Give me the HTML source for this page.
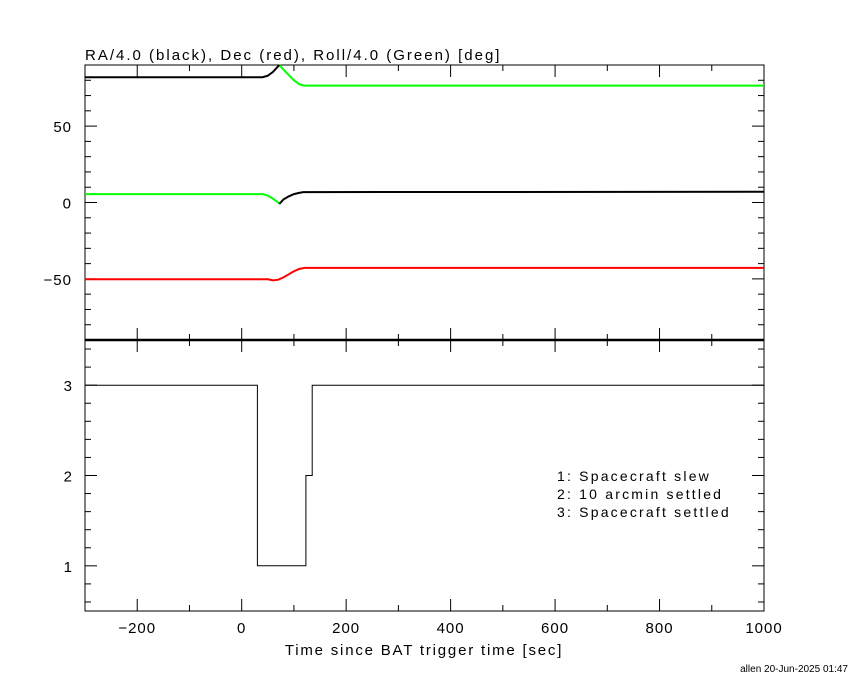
<!DOCTYPE html>
<html><head><meta charset="utf-8"><style>
body{margin:0;background:#fff}
svg text{font-family:"Liberation Sans","DejaVu Sans",sans-serif;fill:#000}
</style></head><body>
<svg id="c" width="850" height="680" xmlns="http://www.w3.org/2000/svg">
<text x="85" y="60" font-size="15" letter-spacing="2">RA/4.0 (black), Dec (red), Roll/4.0 (Green) [deg]</text>
<text x="424" y="655" font-size="15" letter-spacing="1.8" text-anchor="middle">Time since BAT trigger time [sec]</text>
<text x="848" y="672" font-size="10" text-anchor="end">allen 20-Jun-2025 01:47</text>
<g font-size="14" letter-spacing="2.2">
<text x="557" y="481">1: Spacecraft slew</text>
<text x="557" y="499">2: 10 arcmin settled</text>
<text x="557" y="517">3: Spacecraft settled</text>
</g>
<g id="g"></g>
</svg>
<script>
// data
const raTimes=[-300,40,50,60,72,72,80,90,100,110,118,1000];
const raVals=[82,82,83,85.5,90,-1,2,4,5.5,6.3,6.8,7];
const decTimes=[-300,50,60,70,80,90,100,110,120,1000];
const decVals=[-50.3,-50.3,-51,-50.5,-49,-47,-45,-43.5,-42.8,-42.8];
const rollTimes=[-300,40,50,60,72,72,80,90,100,110,120,1000];
const rollVals=[5.5,5.5,4.5,2.5,-0.5,90,87,83.5,80,77.5,76.5,76.5];
const stTimes=[-300,30,30,123,123,135,135,1000];
const stVals=[3,3,1,1,2,2,3,3];
const xTicks=[-200,0,200,400,600,800,1000];
const topYTicks=[-50,0,50];
const botYTicks=[1,2,3];

const L=85,R=764,T1=65,B1=340,T2=340,B2=611;
const X=t=>L+(t+300)/1300*(R-L);
const Y1=v=>T1+(90-v)/180*(B1-T1);
const Y2=v=>T2+(3.5-v)/3*(B2-T2);
const NS='http://www.w3.org/2000/svg',g=document.getElementById('g');
function el(tag,a){const e=document.createElementNS(NS,tag);for(const k in a)e.setAttribute(k,a[k]);g.appendChild(e);return e;}
function line(x1,y1,x2,y2,w){return el('line',{x1,y1,x2,y2,stroke:'#000','stroke-width':w||1});}
// frames
let f=el('rect',{x:L,y:T1,width:R-L,height:B1-T1,fill:'none',stroke:'#000'});


f=el('rect',{x:L,y:T2,width:R-L,height:B2-T2,fill:'none',stroke:'#000'});


line(L,340,R,340,2.5);
// x ticks
for(let t=-300;t<=1000;t+=100){const x=X(t),maj=t%200===0,h=maj?12:6;
 line(x,T1,x,T1+h);line(x,B1,x,B1-h);line(x,T2,x,T2+h);line(x,B2,x,B2-h);}
xTicks.forEach(t=>{const e=el('text',{x:X(t),y:633,'font-size':15,'letter-spacing':1,'text-anchor':'middle'});e.textContent=(t<0?'\u2212':'')+Math.abs(t);
 
 });
// top y ticks
for(let v=-80;v<=90;v+=10){const y=Y1(v),h=v%50===0?12:6;line(L,y,L+h,y);line(R,y,R-h,y);}
topYTicks.forEach(v=>{const e=el('text',{x:72,y:Y1(v)+6,'font-size':15,'letter-spacing':1,'text-anchor':'end'});e.textContent=(v<0?'\u2212':'')+Math.abs(v);
 
 });
// bottom y ticks
for(let i=3;i<=17;i++){const v=i/5,y=Y2(v),h=(i%5===0)?12:6;line(L,y,L+h,y);line(R,y,R-h,y);}
botYTicks.forEach(v=>{const e=el('text',{x:72,y:Y2(v)+6,'font-size':15,'text-anchor':'end'});e.textContent=v;
 
 });
function series(ts,vs,Y,color,w,name,breakAtJump){
 let d='';for(let i=0;i<ts.length;i++){const jump=breakAtJump&&i>0&&ts[i]===ts[i-1];d+=(i===0||jump?'M':'L')+X(ts[i]).toFixed(1)+' '+Y(vs[i]).toFixed(1)+' ';}
 const p=el('path',{d,fill:'none',stroke:color,'stroke-width':w});
 
 
}
series(decTimes,decVals,Y1,'#ff0000',2,'dec-line',true);
series(rollTimes,rollVals,Y1,'#00ff00',2,'roll-line',true);
series(raTimes,raVals,Y1,'#000',2,'ra-line',true);
series(stTimes,stVals,Y2,'#000',1,'status-line',false);
</script>
</body></html>
